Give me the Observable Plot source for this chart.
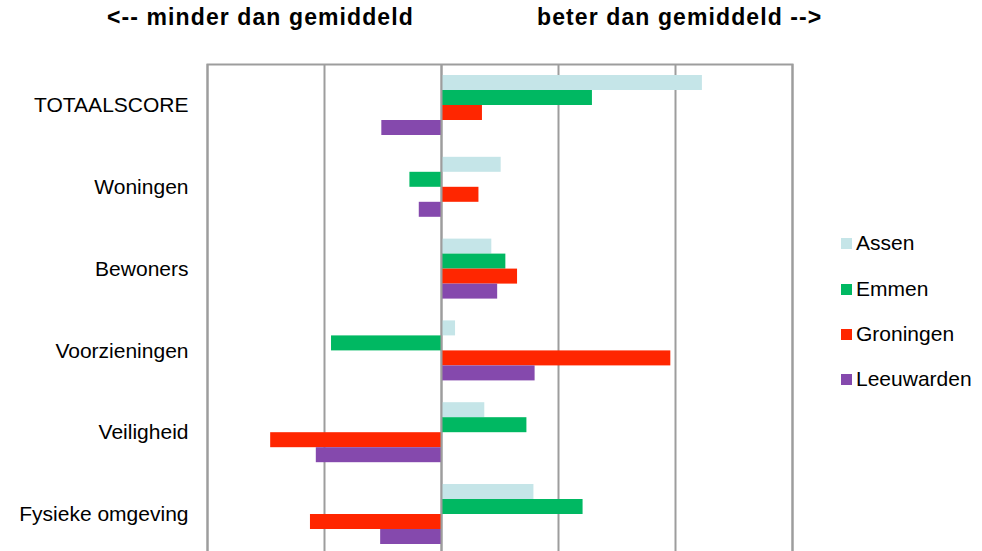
<!DOCTYPE html>
<html><head><meta charset="utf-8">
<script src="https://cdn.jsdelivr.net/npm/d3@7"></script>
<script src="https://cdn.jsdelivr.net/npm/@observablehq/plot@0.6"></script>
<style>
body{margin:0;background:#fff;font-family:"Liberation Sans",Arial,sans-serif;}
#wrap{position:relative;width:982px;height:551px;overflow:hidden;}
#wrap svg{position:absolute;left:0;top:0;}
.title{position:absolute;top:4px;font-weight:bold;font-size:23px;letter-spacing:1.1px;white-space:nowrap;color:#000;}
.item{position:absolute;left:841px;display:flex;align-items:center;font-size:21px;white-space:nowrap;color:#000;height:24px;margin-top:-12px;}
.sw{width:11px;height:11px;margin-right:4px;}
</style></head>
<body><div id="wrap"></div>
<script>
const categories = ["TOTAALSCORE","Woningen","Bewoners","Voorzieningen","Veiligheid","Fysieke omgeving"];
const seriesNames = ["Assen","Emmen","Groningen","Leeuwarden"];
const assen      = [2.23, 0.51, 0.43, 0.12, 0.37, 0.79];
const emmen      = [1.29, -0.27, 0.55, -0.94, 0.73, 1.21];
const groningen  = [0.35, 0.32, 0.65, 1.96, -1.46, -1.12];
const leeuwarden = [-0.51, -0.19, 0.48, 0.80, -1.07, -0.52];
const gridTicks = [-2, -1, 0, 1, 2, 3];
const titles = ["<-- minder dan gemiddeld", "beter dan gemiddeld -->"];
const colors = ["#c5e5e8", "#00b862", "#ff2600", "#8549ad"];

const values = [assen, emmen, groningen, leeuwarden];
const bw = 60, n = seriesNames.length, slot = bw / n;

const barMarks = seriesNames.map((s, i) =>
  Plot.barX(categories.map((c, j) => ({category: c, series: s, value: values[i][j]})), {
    x: "value", y: "category", fill: colors[i],
    insetTop: i * slot, insetBottom: (n - 1 - i) * slot
  })
);

const chart = Plot.plot({
  width: 982, height: 557,
  marginTop: 64, marginBottom: 2, marginLeft: 207, marginRight: 190,
  style: {fontFamily: "'Liberation Sans', Arial, sans-serif", fontSize: "21px", color: "#000", background: "#fff"},
  x: {domain: [-2, 3], axis: null},
  y: {domain: categories, round: false, paddingInner: 0.2665, paddingOuter: 0.1345, label: null, tickSize: 0, tickPadding: 19},
  marks: [
    Plot.ruleX(gridTicks, {stroke: "#9d9d9d", strokeWidth: 2}),
    ...barMarks,
    Plot.ruleX([0], {stroke: "#9d9d9d", strokeWidth: 2}),
    Plot.frame({stroke: "#9d9d9d", strokeWidth: 2})
  ]
});
const wrap = document.getElementById("wrap");
wrap.appendChild(chart);

const t1 = document.createElement("div"); t1.className = "title"; t1.style.left = "107px"; t1.textContent = titles[0]; wrap.appendChild(t1);
const t2 = document.createElement("div"); t2.className = "title"; t2.style.left = "537px"; t2.textContent = titles[1]; wrap.appendChild(t2);

const legendY = [243, 289, 334, 379];
seriesNames.forEach((s, i) => {
  const d = document.createElement("div"); d.className = "item"; d.style.top = legendY[i] + "px";
  const sw = document.createElement("span"); sw.className = "sw"; sw.style.background = colors[i];
  const tx = document.createElement("span"); tx.textContent = s;
  d.appendChild(sw); d.appendChild(tx); wrap.appendChild(d);
});
</script>
</body></html>
